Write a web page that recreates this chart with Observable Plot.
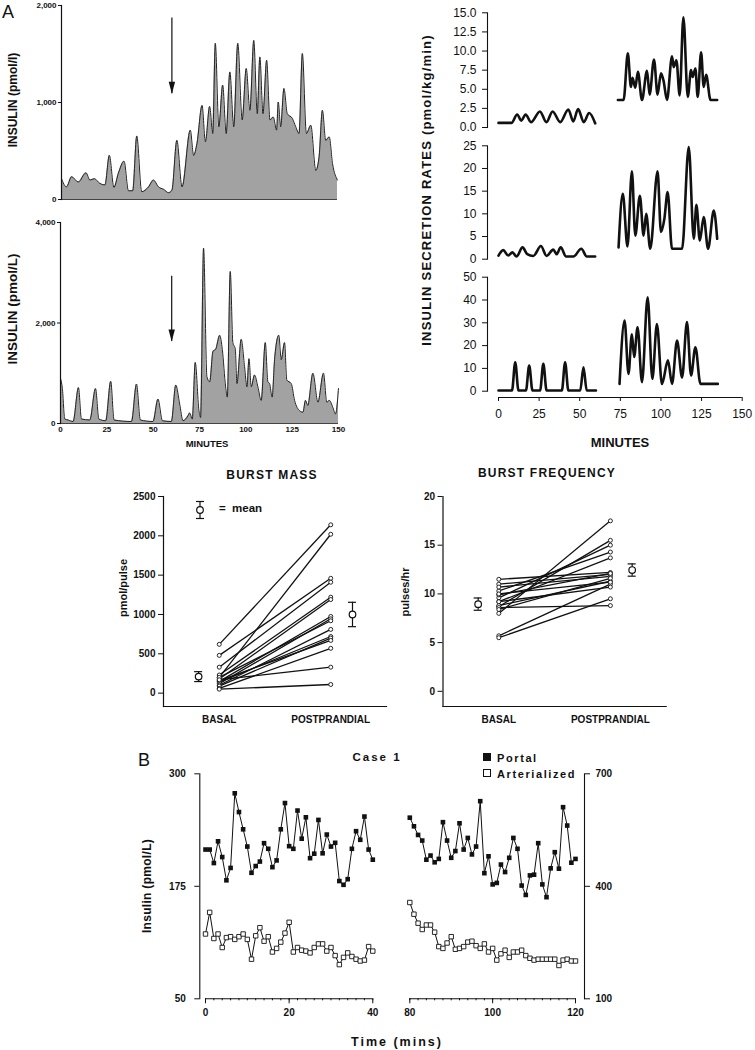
<!DOCTYPE html>
<html><head><meta charset="utf-8">
<script src="https://cdn.jsdelivr.net/npm/d3@7"></script>
<script src="https://cdn.jsdelivr.net/npm/@observablehq/plot@0.6"></script>
<style>
body{margin:0;background:#fff;}
#root{position:relative;width:755px;height:1050px;overflow:hidden;font-family:"Liberation Sans",Arial,sans-serif;color:#111;background:#fff;}
.lbl{position:absolute;white-space:pre;font-weight:bold;transform:translate(-50%,-50%);line-height:1;}
.rot{transform:translate(-50%,-50%) rotate(-90deg);}
svg{overflow:visible;}
</style></head><body><div id="root"></div>
<script>
// ---------- Panel A, left: plasma insulin profiles ----------
const l1Time = [0,2.7,5.5,9.1,13.3,15.5,17.8,20.9,23.6,26,28.5,30.9,34,36.4,38.7,40.9,43.6,47.3,50,52.7,55.5,58.2,60,62.7,65.5,70,71.8,73.6,76.4,78.2,80.5,82.2,83.6,85.5,87.6,89.5,91.5,93.6,95.8,98.2,100.4,102.4,104.5,106.4,107.8,109.5,111.5,113.3,115.1,116.9,117.8,119.1,120.9,122.7,125.5,127.3,129.1,130.9,133.1,135.5,138.2,140,141.8,143.6,145.5,147.3,150];
const l1Insulin = [215,130,235,180,275,200,215,165,150,455,125,270,395,90,90,655,80,130,200,130,105,70,95,610,130,715,455,575,970,595,960,680,1610,750,1180,680,1315,750,1610,820,1350,920,1640,885,1470,885,1435,820,850,715,1005,750,1145,885,835,750,680,1505,680,765,300,440,920,610,645,370,200];
const l1Ticks = [0,1000,2000];
const l1Arrow = {time: 60, from: 1870, to: 1090};

const l2Time = [0,1,2.3,4.1,6.8,9.7,11.3,15.8,18.9,20.7,24.4,27.1,28.9,38.3,41,43.1,49.9,52.6,55,59.8,62.2,64.3,66.1,68.8,69.7,71.1,72.7,74.7,75.6,77.2,79,80.5,82.3,83.7,85.9,87.3,89.1,90,91.6,93,94.3,95.2,97.5,99.3,100.6,101.7,102.9,104.7,106.5,108.3,110.5,111.9,112.8,114.2,115.5,117.8,119.1,120.9,122.1,124.5,126.3,129,130.8,132.2,133.4,136.2,138.9,141.9,143.7,145.1,146.9,148.4,150];
const l2Insulin = [900,700,90,70,40,715,90,70,695,90,55,840,70,40,785,70,40,485,55,40,765,390,55,155,210,90,1215,255,120,3490,930,830,1440,1475,1755,1475,730,525,3025,1610,1485,795,1675,1135,730,1290,730,965,730,460,1610,830,795,525,1270,1755,1270,1610,865,795,460,255,225,460,360,1000,425,1000,425,460,325,190,695];
const l2Ticks = [0,2000,4000];
const l2TimeTicks = [0,25,50,75,100,125,150];
const l2Arrow = {time: 60, from: 2930, to: 1630};

// ---------- Panel A, right: insulin secretion rates ----------
const r1BasalTime = [0,8,11.5,14,16.7,20,25.5,29.5,33.3,38,43,46,49,52.5,55.8,59.5];
const r1BasalRate = [0.6,0.6,1.7,0.9,1.7,0.7,2.1,0.7,2.1,0.7,2.35,0.8,2.4,0.7,1.9,0.55];
const r1PostTime = [73.5,77,79.6,81.5,82.5,84.2,85.8,88.3,91.4,93,95.7,97.9,100,101.6,103.7,106.8,107.8,109.5,111.5,113.8,116.5,118.5,119.5,121.2,122.6,124.7,126.3,127.8,130.5,134.6];
const r1PostRate = [3.6,3.6,9.7,5.3,6.5,5.2,7.3,3.6,7.4,4.3,8.9,4.3,7.1,6.1,3.6,9.3,7.9,8.8,4.2,14.4,4.0,7.5,6.6,7.7,4.0,9.85,5.3,6.9,3.6,3.6];
const r1Ticks = [0,2.5,5,7.5,10,12.5,15];

const r2BasalTime = [0,2.9,6,8.6,11.1,14.8,17.7,21.4,26.1,29.6,33.7,35.8,38.3,41.6,46.1,51,54.3,59.5];
const r2BasalRate = [0.8,2.0,0.8,1.5,0.6,2.6,1.1,0.7,2.9,0.7,2.1,1.1,2.6,0.6,0.6,2.3,0.6,0.6];
const r2PostTime = [73.9,76.5,79.4,82.1,84.2,87,89.3,90.9,93.4,97.9,100,102.1,104.1,106.8,113,117.1,120.2,121.8,123.9,126.3,129,132.5,134.6];
const r2PostRate = [2.6,14.4,2.8,19.4,5.2,14,5.2,10,2.3,19.4,6,8.9,14.8,2.3,2.3,24.7,4.5,12,4.1,9.3,2.3,10.7,4.5];
const r2Ticks = [0,5,10,15,20,25];

const r3BasalTime = [0,8.3,10.3,12.3,16.9,18.9,20.9,25.6,27.6,29.6,39,41,43,50.3,52.3,54.3,60];
const r3BasalRate = [0.3,0.3,12.7,0.3,0.3,11.3,0.3,0.3,12,0.3,0.3,12.7,0.3,0.3,10.5,0.3,0.3];
const r3PostTime = [74.5,77.6,80,82.1,83.5,85.6,88.3,91.8,94.7,97.5,100.6,104.3,106.8,109.9,113,116,118.5,121.2,124.3,135];
const r3PostRate = [3.2,31,7.6,25,15,28,4,41.2,5.4,29.5,3.2,13.5,3.2,22.2,6,30.3,6.9,19.3,3.2,3.2];
const r3Ticks = [0,10,20,30,40,50];
const rTimeTicks = [0,25,50,75,100,125,150];

// ---------- Burst mass / burst frequency ----------
const burstCategories = ["BASAL","POSTPRANDIAL"];
const massBasal = [620,200,480,330,230,180,150,120,200,100,140,90,160,60,170,50];
const massPost  = [2140,2020,1460,1410,1220,1190,975,945,920,810,720,700,670,570,330,110];
const massMean = [210,1000];
const massSE = [63,155];
const massTicks = [0,500,1000,1500,2000,2500];

const freqBasal = [8.0,8.7,9.6,10.3,9.2,11.5,11.0,10.7,9.9,8.8,8.6,8.4,5.7,5.5,9.2,10.0];
const freqPost  = [17.5,15.5,15.0,14.3,13.7,12.2,12.0,11.8,12.1,11.3,8.8,11.6,11.0,9.5,10.7,11.2];
const freqMean = [8.95,12.45];
const freqSE = [0.63,0.63];
const freqTicks = [0,5,10,15,20];

// ---------- Panel B: Case 1 ----------
const bTimeEarly = [0,1,2,3,4,5,6,7,8,9,10,11,12,13,14,15,16,17,18,19,20,21,22,23,24,25,26,27,28,29,30,31,32,33,34,35,36,37,38,39,40];
const bTimeLate = [80,81,82,83,84,85,86,87,88,89,90,91,92,93,94,95,96,97,98,99,100,101,102,103,104,105,106,107,108,109,110,111,112,113,114,115,116,117,118,119,120];
const portalEarly = [498,498,462,520,478,416,449,648,598,552,506,436,454,466,515,500,451,469,552,622,507,500,602,527,584,475,487,577,488,538,506,516,414,404,419,500,547,524,586,498,471]; // right axis
const portalLate = [583,560,537,522,471,482,464,473,571,522,476,494,568,498,529,485,506,627,435,480,405,409,458,438,476,529,500,402,377,429,431,515,405,371,448,491,447,611,562,463,473]; // right axis
const arterialEarly = [122,146,117,122,107,118,119,116,119,122,116,94,120,129,114,119,102,106,113,123,135,102,107,104,103,101,107,111,111,103,107,98,88,96,101,97,94,92,93,108,103]; // left axis
const arterialLate = [157,144,134,127,132,132,124,108,106,112,119,105,106,108,113,114,109,106,111,102,106,93,100,104,96,102,102,104,98,95,93,94,94,94,94,94,87,93,94,92,92]; // left axis
const bLeftTicks = [50,175,300];
const bRightTicks = [100,400,700];
const bEarlyTicks = [0,20,40];
const bLateTicks = [80,100,120];

// ================= drawing =================
const root = document.getElementById("root");
const FONT = "Liberation Sans, Arial, sans-serif";
const baseStyle = {background: "transparent", fontFamily: FONT, color: "#111", overflow: "visible"};
function put(el, left, top) {
  el.style.position = "absolute"; el.style.left = left + "px"; el.style.top = top + "px";
  root.appendChild(el);
}
function label(str, cx, cy, size, o = {}) {
  const d = document.createElement("div");
  d.className = "lbl" + (o.rot ? " rot" : "");
  d.textContent = str;
  d.style.left = cx + "px"; d.style.top = cy + "px"; d.style.fontSize = size + "px";
  if (o.ls) d.style.letterSpacing = o.ls + "px";
  if (o.weight) d.style.fontWeight = o.weight;
  root.appendChild(d);
}
const rowsOf = (ts, vs, extra = {}) => ts.map((t, i) => ({t, v: vs[i], ...extra}));
const arrowHead = {draw(ctx) { ctx.moveTo(0, 0); ctx.lineTo(-3.2, -12); ctx.lineTo(3.2, -12); ctx.closePath(); }};

// ----- L1 -----
{
  const rows = rowsOf(l1Time, l1Insulin);
  const p = Plot.plot({
    width: 345, height: 205, marginLeft: 61, marginRight: 8, marginTop: 5, marginBottom: 6,
    style: baseStyle,
    x: {domain: [0, 150], axis: null},
    y: {domain: [0, 2000]},
    marks: [
      Plot.areaY(rows, {x: "t", y: "v", fill: "#a2a2a2", curve: "monotone-x"}),
      Plot.lineY(rows, {x: "t", y: "v", stroke: "#222", strokeWidth: 1, curve: "monotone-x"}),
      Plot.ruleY([0], {stroke: "#444"}),
      Plot.frame({anchor: "left", strokeWidth: 1.2}),
      Plot.axisY({ticks: l1Ticks, tickFormat: d3.format(","), tickSize: 3, tickPadding: 2, fontSize: 8, fontWeight: "bold", label: null}),
      Plot.ruleX([l1Arrow], {x: "time", y1: "from", y2: "to", strokeWidth: 1.2}),
      Plot.dot([l1Arrow], {x: "time", y: "to", symbol: arrowHead, fill: "#111", stroke: null})
    ]
  });
  put(p, 0, 0);
}
// ----- L2 -----
{
  const rows = rowsOf(l2Time, l2Insulin);
  const p = Plot.plot({
    width: 345, height: 240, marginLeft: 60, marginRight: 7, marginTop: 12, marginBottom: 27,
    style: baseStyle,
    x: {domain: [0, 150]},
    y: {domain: [0, 4000]},
    marks: [
      Plot.areaY(rows, {x: "t", y: "v", fill: "#a2a2a2", curve: "monotone-x"}),
      Plot.lineY(rows, {x: "t", y: "v", stroke: "#222", strokeWidth: 1, curve: "monotone-x"}),
      Plot.ruleY([0], {stroke: "#444"}),
      Plot.frame({anchor: "left", strokeWidth: 1.2}),
      Plot.axisY({ticks: l2Ticks, tickFormat: d3.format(","), tickSize: 3, tickPadding: 2, fontSize: 8, fontWeight: "bold", label: null}),
      Plot.axisX({ticks: l2TimeTicks, tickSize: 0, tickPadding: 3, fontSize: 8, fontWeight: "bold", label: null}),
      Plot.ruleX([l2Arrow], {x: "time", y1: "from", y2: "to", strokeWidth: 1.2}),
      Plot.dot([l2Arrow], {x: "time", y: "to", symbol: arrowHead, fill: "#111", stroke: null})
    ]
  });
  put(p, 0, 210);
}
label("A", 8, 12, 18, {weight: "normal"});
label("INSULIN (pmol/l)", 13, 100, 12, {rot: true});
label("INSULIN (pmol/L)", 13, 309, 13.5, {rot: true});
label("MINUTES", 207, 444, 9.5);

// ----- R panels -----
function rPanel(bt, bv, pt, pv, ticks, fmt, top, height, mTop, mBottom) {
  const rows = [...rowsOf(bt, bv, {seg: "basal"}), ...rowsOf(pt, pv, {seg: "post"})];
  const p = Plot.plot({
    width: 755, height, marginLeft: 487, marginRight: 13.3, marginTop: mTop, marginBottom: mBottom,
    style: baseStyle,
    x: {domain: [0, 150], insetLeft: 11, axis: null},
    y: {domain: [ticks[0], ticks[ticks.length - 1]]},
    marks: [
      Plot.line(rows, {x: "t", y: "v", z: "seg", curve: "monotone-x", stroke: "#111", strokeWidth: 2.6}),
      Plot.frame({anchor: "left", strokeWidth: 1.1}),
      Plot.axisY({ticks, tickFormat: fmt, tickSize: 5, tickPadding: 6, fontSize: 12, label: null})
    ]
  });
  put(p, 0, top);
}
rPanel(r1BasalTime, r1BasalRate, r1PostTime, r1PostRate, r1Ticks, d3.format(".1f"), 0, 135, 12.3, 8);
rPanel(r2BasalTime, r2BasalRate, r2PostTime, r2PostRate, r2Ticks, d3.format("d"), 135, 130, 10.3, 6.3);
rPanel(r3BasalTime, r3BasalRate, r3PostTime, r3PostRate, r3Ticks, d3.format("d"), 265, 130, 11.7, 4.3);
{
  const p = Plot.plot({
    width: 755, height: 75, marginLeft: 498, marginRight: 13.3, marginTop: 5, marginBottom: 58,
    style: baseStyle,
    x: {domain: [0, 150]},
    y: {domain: [0, 1], axis: null},
    marks: [
      Plot.ruleY([0], {strokeWidth: 1.1}),
      Plot.axisX({ticks: rTimeTicks, tickSize: 4, tickPadding: 8, fontSize: 12, label: null})
    ]
  });
  put(p, 0, 380);
}
label("INSULIN SECRETION RATES (pmol/kg/min)", 426, 190, 13, {rot: true, ls: 1.2});
label("MINUTES", 620, 442, 13);

// ----- Burst mass / frequency -----
function burstPanel(basal, post, mean, se, ticks, yDomain, left, width, mLeft, mRight) {
  const catPos = [1, 2];
  const meanPos = [0.815, 2.195];
  const capHalf = 0.036;
  const subj = basal.map((b, i) => ({basal: b, post: post[i]}));
  const means = mean.map((m, i) => ({pos: meanPos[i], m, se: se[i]}));
  const p = Plot.plot({
    width, height: 280, marginLeft: mLeft, marginRight: mRight, marginTop: 46, marginBottom: 24,
    style: baseStyle,
    x: {domain: [0.5, 2.5]},
    y: {domain: yDomain},
    marks: [
      Plot.frame({anchor: "left", strokeWidth: 1.2}),
      Plot.frame({anchor: "bottom", strokeWidth: 1.2}),
      Plot.axisY({ticks, tickFormat: d3.format("d"), tickSize: 5, tickPadding: 3, fontSize: 10, fontWeight: "bold", label: null}),
      Plot.axisX({ticks: catPos, tickFormat: d => burstCategories[catPos.indexOf(d)], tickSize: 0, tickPadding: 9, fontSize: 10, fontWeight: "bold", label: null}),
      Plot.link(subj, {x1: catPos[0], x2: catPos[1], y1: "basal", y2: "post", stroke: "#111", strokeWidth: 1.3}),
      Plot.dot(subj, {x: catPos[0], y: "basal", r: 2, fill: "white", stroke: "#111", strokeWidth: 0.9}),
      Plot.dot(subj, {x: catPos[1], y: "post", r: 2, fill: "white", stroke: "#111", strokeWidth: 0.9}),
      Plot.ruleX(means, {x: "pos", y1: d => d.m - d.se, y2: d => d.m + d.se, strokeWidth: 1.2}),
      Plot.ruleY(means, {y: d => d.m + d.se, x1: d => d.pos - capHalf, x2: d => d.pos + capHalf, strokeWidth: 1.2}),
      Plot.ruleY(means, {y: d => d.m - d.se, x1: d => d.pos - capHalf, x2: d => d.pos + capHalf, strokeWidth: 1.2}),
      Plot.dot(means, {x: "pos", y: "m", r: 3.3, fill: "white", stroke: "#111", strokeWidth: 1.2})
    ]
  });
  put(p, left, 450);
}
burstPanel(massBasal, massPost, massMean, massSE, massTicks, [-170, 2500], 0, 400, 163, 14);
burstPanel(freqBasal, freqPost, freqMean, freqSE, freqTicks, [-1.56, 20], 380, 300, 62.5, 14.3);
label("BURST MASS", 272, 475, 12, {ls: 1.2});
label("BURST FREQUENCY", 547, 473, 12, {ls: 1.2});
label("pmol/pulse", 123, 588, 11, {rot: true});
label("pulses/hr", 405, 592, 11, {rot: true});
// mean legend
{
  const ns = "http://www.w3.org/2000/svg";
  const s = document.createElementNS(ns, "svg");
  s.setAttribute("width", 20); s.setAttribute("height", 24);
  s.innerHTML = '<g stroke="#111" stroke-width="1.2" fill="white"><line x1="10" x2="10" y1="3.5" y2="20.5"/><line x1="6" x2="14" y1="3.5" y2="3.5"/><line x1="6" x2="14" y1="20.5" y2="20.5"/><circle cx="10" cy="12" r="3.3"/></g>';
  put(s, 190.3, 498);
  const t = document.createElement("div");
  t.textContent = "=  mean"; t.style.cssText = "position:absolute;left:219px;top:503px;font-size:11.5px;font-weight:bold;white-space:pre;line-height:1;";
  root.appendChild(t);
}

// ----- Panel B -----
const toLeft = v => 50 + (v - 100) * 250 / 600;
const fromLeft = v => 100 + (v - 50) * 600 / 250;
function seriesMarks(times, portal, arterial) {
  const pr = times.map((t, i) => ({t, v: toLeft(portal[i])}));
  const ar = times.map((t, i) => ({t, v: arterial[i]}));
  return [
    Plot.line(pr, {x: "t", y: "v", stroke: "#111", strokeWidth: 1}),
    Plot.dot(pr, {x: "t", y: "v", symbol: "square", r: 2.6, fill: "#111", stroke: null}),
    Plot.line(ar, {x: "t", y: "v", stroke: "#111", strokeWidth: 1}),
    Plot.dot(ar, {x: "t", y: "v", symbol: "square", r: 2.5, fill: "white", stroke: "#111", strokeWidth: 0.9})
  ];
}
{
  const p = Plot.plot({
    width: 380, height: 290, marginLeft: 199.3, marginRight: 7.7, marginTop: 13.3, marginBottom: 51.7,
    style: baseStyle,
    x: {domain: [bTimeEarly[0], bTimeEarly[bTimeEarly.length - 1]], insetLeft: 5.7},
    y: {domain: [50, 300]},
    marks: [
      Plot.frame({anchor: "left", strokeWidth: 1.1}),
      Plot.axisY({ticks: bLeftTicks, tickSize: 5, tickPadding: 9, fontSize: 10, fontWeight: "bold", label: null}),
      Plot.ruleY([50], {x1: bTimeEarly[0], x2: bTimeEarly[bTimeEarly.length - 1], strokeWidth: 1.1}),
      Plot.axisX({ticks: d3.range(0, 41, 2), tickSize: 2, tickFormat: () => "", label: null}),
      Plot.axisX({ticks: bEarlyTicks, tickSize: 5, tickPadding: 5, fontSize: 10, fontWeight: "bold", label: null}),
      ...seriesMarks(bTimeEarly, portalEarly, arterialEarly)
    ]
  });
  put(p, 0, 760);
}
{
  const p = Plot.plot({
    width: 755, height: 290, marginLeft: 409.3, marginRight: 171, marginTop: 13.3, marginBottom: 51.7,
    style: baseStyle,
    x: {domain: [bTimeLate[0], bTimeLate[bTimeLate.length - 1]], insetRight: 9},
    y: {domain: [50, 300]},
    marks: [
      Plot.frame({anchor: "right", strokeWidth: 1.1}),
      Plot.axisY({anchor: "right", ticks: bRightTicks.map(toLeft), tickFormat: d => String(Math.round(fromLeft(d))), tickSize: 5, tickPadding: 6, fontSize: 10, fontWeight: "bold", label: null}),
      Plot.ruleY([50], {x1: bTimeLate[0], x2: bTimeLate[bTimeLate.length - 1], strokeWidth: 1.1}),
      Plot.axisX({ticks: d3.range(80, 121, 2), tickSize: 2, tickFormat: () => "", label: null}),
      Plot.axisX({ticks: bLateTicks, tickSize: 5, tickPadding: 5, fontSize: 10, fontWeight: "bold", label: null}),
      ...seriesMarks(bTimeLate, portalLate, arterialLate)
    ]
  });
  put(p, 0, 760);
}
label("B", 144, 760, 18, {weight: "normal"});
label("Case 1", 377, 758, 11.5, {ls: 2});
label("Insulin (pmol/L)", 147, 886, 12, {rot: true, ls: 0.3});
label("Time (mins)", 397, 1042, 12.5, {ls: 2});
{
  const lg = document.createElement("div");
  lg.style.cssText = "position:absolute;left:483px;top:750px;font-size:11px;font-weight:bold;letter-spacing:1.6px;line-height:16px;white-space:nowrap;";
  lg.innerHTML = '<div><span style="display:inline-block;width:6px;height:6px;background:#111;border:1px solid #111;margin-right:6px;vertical-align:1px"></span>Portal</div>' +
                 '<div><span style="display:inline-block;width:6px;height:6px;background:#fff;border:1px solid #111;margin-right:6px;vertical-align:1px"></span>Arterialized</div>';
  root.appendChild(lg);
}
</script></body></html>
